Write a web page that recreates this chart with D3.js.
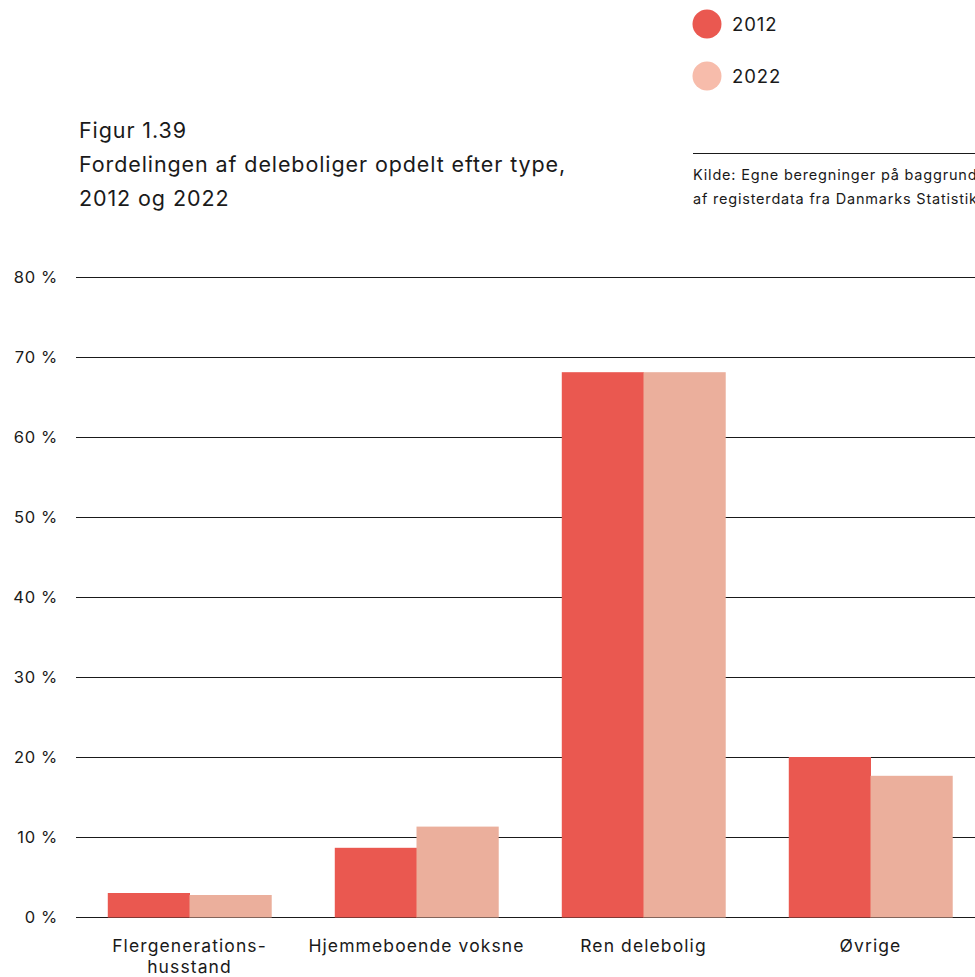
<!DOCTYPE html>
<html>
<head>
<meta charset="utf-8">
<script src="https://cdn.jsdelivr.net/npm/d3@7"></script>
<style>
  body { margin: 0; background: #fff; }
  svg { display: block; font-family: "Inter", "Noto Sans", sans-serif; }
  .tick line { display: none; }
  .domain { display: none; }
</style>
</head>
<body>
<div id="chart"></div>
<script>
const categories = [["Flergenerations-", "husstand"], ["Hjemmeboende voksne"], ["Ren delebolig"], ["Øvrige"]];
const series = ["2012", "2022"];
const values2012 = [3.0, 8.65, 68.1, 20.0];
const values2022 = [2.75, 11.3, 68.1, 17.65];
const yTicks = [0, 10, 20, 30, 40, 50, 60, 70, 80];

const width = 975;
const height = 977;
const colours = { "2012": "#ea5850", "2022": "#ebaf9c" };
const legendColours = { "2012": "#ea5850", "2022": "#f7bcab" };

const svg = d3.select("#chart")
    .append("svg")
    .attr("width", width)
    .attr("height", height);

const x = d3.scaleBand()
    .domain(categories.map(d => d.join(" ")))
    .range([76, 984])
    .paddingInner(0.28)
    .paddingOuter(0.14);

const xSub = d3.scaleBand()
    .domain(series)
    .range([0, x.bandwidth()]);

const y = d3.scaleLinear()
    .domain([0, 80])
    .range([917, 277]);

// gridlines
svg.append("g")
   .selectAll("line")
   .data(yTicks)
   .enter()
   .append("line")
   .attr("x1", 76)
   .attr("x2", width)
   .attr("y1", d => y(d) + 0.5)
   .attr("y2", d => y(d) + 0.5)
   .attr("stroke", "#1a1a1a")
   .attr("stroke-width", 1);

// y axis labels
const yAxis = svg.append("g")
   .attr("transform", "translate(58,0)")
   .call(d3.axisLeft(y).tickValues(yTicks).tickSize(0).tickPadding(0).tickFormat(d => d + " %"));
yAxis.selectAll("text")
   .attr("font-size", 16.5)
   .attr("letter-spacing", 0.7)
   .attr("fill", "#1a1a1a")
   .attr("font-family", "Inter, 'Noto Sans', sans-serif");

// bars
const rows = categories.map((c, i) => ({ key: c.join(" "), v: { "2012": values2012[i], "2022": values2022[i] } }));

const groups = svg.selectAll(".group")
   .data(rows)
   .enter()
   .append("g")
   .attr("class", "group")
   .attr("transform", d => `translate(${x(d.key)},0)`);

groups.selectAll("rect")
   .data(d => series.map(s => ({ s: s, value: d.v[s] })))
   .enter()
   .append("rect")
   .attr("x", d => xSub(d.s))
   .attr("width", xSub.bandwidth() + 0.5)
   .attr("y", d => y(d.value))
   .attr("height", d => y(0) - y(d.value) + 0.5)
   .attr("fill", d => colours[d.s]);

// x labels
const xLabels = svg.selectAll(".xlabel")
   .data(categories)
   .enter()
   .append("text")
   .attr("class", "xlabel")
   .attr("x", d => x(d.join(" ")) + x.bandwidth() / 2)
   .attr("y", 952)
   .attr("text-anchor", "middle")
   .attr("font-size", 17.5)
   .attr("letter-spacing", 1.1)
   .attr("fill", "#1a1a1a");

xLabels.selectAll("tspan")
   .data(d => d)
   .enter()
   .append("tspan")
   .attr("x", function() { return this.parentNode.getAttribute("x"); })
   .attr("dy", (d, i) => i === 0 ? 0 : 21)
   .text(d => d);

// title
const title = ["Figur 1.39", "Fordelingen af deleboliger opdelt efter type,", "2012 og 2022"];
svg.append("g")
   .selectAll("text")
   .data(title)
   .enter()
   .append("text")
   .attr("x", 79)
   .attr("y", (d, i) => 138 + i * 34)
   .attr("font-size", 21.5)
   .attr("letter-spacing", 0.9)
   .attr("fill", "#1a1a1a")
   .text(d => d);

// legend
const legend = svg.append("g")
   .selectAll("g")
   .data(series)
   .enter()
   .append("g")
   .attr("transform", (d, i) => `translate(707, ${24 + i * 52})`);

legend.append("circle")
   .attr("r", 14.5)
   .attr("fill", d => legendColours[d]);

legend.append("text")
   .attr("x", 25)
   .attr("y", 6.5)
   .attr("font-size", 18.5)
   .attr("letter-spacing", 0.9)
   .attr("fill", "#1a1a1a")
   .text(d => d);

// source
svg.append("line")
   .attr("x1", 693)
   .attr("x2", width)
   .attr("y1", 153.5)
   .attr("y2", 153.5)
   .attr("stroke", "#1a1a1a")
   .attr("stroke-width", 1);

const source = ["Kilde: Egne beregninger på baggrund", "af registerdata fra Danmarks Statistik"];
svg.append("g")
   .selectAll("text")
   .data(source)
   .enter()
   .append("text")
   .attr("x", 693)
   .attr("y", (d, i) => 180 + i * 24)
   .attr("font-size", 14.5)
   .attr("letter-spacing", 0.8)
   .attr("fill", "#1a1a1a")
   .text(d => d);
</script>
</body>
</html>
